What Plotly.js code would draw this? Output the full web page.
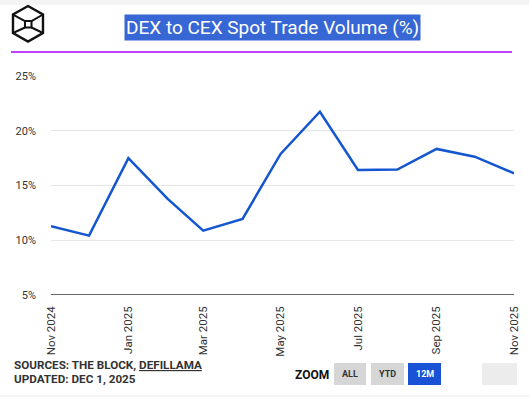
<!DOCTYPE html>
<html>
<head>
<meta charset="utf-8">
<script src="https://cdn.plot.ly/plotly-3.0.1.min.js"></script>
<style>
html,body{margin:0;padding:0;background:#fff;}
#chart{width:529px;height:399px;}
</style>
</head>
<body>
<div id="chart"></div>
<script>
// ---- data ----
const months = ["2024-11-01","2024-12-01","2025-01-01","2025-02-01","2025-03-01","2025-04-01","2025-05-01","2025-06-01","2025-07-01","2025-08-01","2025-09-01","2025-10-01","2025-11-01"];
const dexToCexPct = [11.28, 10.42, 17.49, 13.77, 10.88, 11.95, 17.88, 21.74, 16.42, 16.45, 18.34, 17.63, 16.12];
const titleText = "DEX to CEX Spot Trade Volume (%)";
const sourcesText = "SOURCES: THE BLOCK, <span style=\"text-decoration:underline\">DEFILLAMA</span>";
const updatedText = "UPDATED: DEC 1, 2025";
const zoomButtons = ["ALL", "YTD", "12M"];

// ---- layout helpers (pixel -> paper) ----
const L = 51, R = 15, T = 76, B = 104, W = 529, H = 399;
const PW = W - L - R, PH = H - T - B;
const px = x => (x - L) / PW;
const py = y => (H - B - y) / PH;
const P = (x, y) => px(x).toFixed(4) + "," + py(y).toFixed(4);

const shapes = [];
const annotations = [];

// header purple rule
shapes.push({type:"line", xref:"paper", yref:"paper", x0:px(11), x1:px(512), y0:py(52), y1:py(52), line:{color:"#aa00ff", width:1.5}});
// top grey strip
shapes.push({type:"rect", xref:"paper", yref:"paper", x0:px(0), x1:px(529), y0:py(0), y1:py(5), line:{width:0}, fillcolor:"#f4f4f4", layer:"below"});

// logo (cube)
const hex = [[28,6],[43,14.5],[43,33],[28,41.5],[13,33],[13,14.5]];
shapes.push({type:"path", xref:"paper", yref:"paper", line:{color:"#111", width:2.4},
  path: "M" + hex.map(p => P(p[0], p[1])).join(" L") + " Z"});
shapes.push({type:"path", xref:"paper", yref:"paper", line:{color:"#111", width:2},
  path: "M" + P(25,21) + " L" + P(31.5,21) + " L" + P(31.5,27.5) + " L" + P(25,27.5) + " Z"});
[[13,14.5,25,21],[43,14.5,31.5,21],[13,33,25,27.5],[43,33,31.5,27.5]].forEach(s => {
  shapes.push({type:"path", xref:"paper", yref:"paper", line:{color:"#111", width:2},
    path:"M" + P(s[0],s[1]) + " L" + P(s[2],s[3])});
});

// title
annotations.push({xref:"paper", yref:"paper", x:px(272), y:py(27.5), xanchor:"center", yanchor:"middle",
  text:titleText, showarrow:false, font:{family:"Roboto, sans-serif", size:19, color:"#ffffff"},
  bgcolor:"#3767d4", borderpad:1});

// sources
annotations.push({xref:"paper", yref:"paper", x:px(12), y:py(365), xanchor:"left", yanchor:"middle",
  text:"<b>" + sourcesText + "</b>", showarrow:false, font:{family:"Roboto, sans-serif", size:11.7, color:"#333333"}});
annotations.push({xref:"paper", yref:"paper", x:px(12), y:py(378.5), xanchor:"left", yanchor:"middle",
  text:"<b>" + updatedText + "</b>", showarrow:false, font:{family:"Roboto, sans-serif", size:11.7, color:"#333333"}});

// zoom label + buttons
annotations.push({xref:"paper", yref:"paper", x:px(293), y:py(375), xanchor:"left", yanchor:"middle",
  text:"<b>ZOOM</b>", showarrow:false, font:{family:"Roboto, sans-serif", size:12, color:"#111"}});
const btnX = [[334,366],[371,404],[408,441]];
zoomButtons.forEach((b, i) => {
  const active = b === "12M";
  shapes.push({type:"rect", xref:"paper", yref:"paper", x0:px(btnX[i][0]), x1:px(btnX[i][1]), y0:py(363), y1:py(385),
    line:{width:0}, fillcolor: active ? "#1a52d6" : "#d6d6d6"});
  annotations.push({xref:"paper", yref:"paper", x:px((btnX[i][0]+btnX[i][1])/2), y:py(374), xanchor:"center", yanchor:"middle",
    text:"<b>" + b + "</b>", showarrow:false, font:{family:"Roboto, sans-serif", size:9, color: active ? "#ffffff" : "#333333"}});
});
// faint extra button (behind watermark)
shapes.push({type:"rect", xref:"paper", yref:"paper", x0:px(482), x1:px(517), y0:py(363), y1:py(385), line:{width:0}, fillcolor:"#ececec"});

// bottom separator line
shapes.push({type:"line", xref:"paper", yref:"paper", x0:px(0), x1:px(529), y0:py(396), y1:py(396), line:{color:"#e8e8e8", width:1}});

const trace = {
  x: months, y: dexToCexPct, type:"scatter", mode:"lines",
  line:{color:"#1456d0", width:2.5}, hoverinfo:"skip"
};

const layout = {
  width:W, height:H,
  margin:{l:L, r:R, t:T, b:B, pad:0},
  paper_bgcolor:"#ffffff", plot_bgcolor:"#ffffff",
  showlegend:false,
  xaxis:{type:"date", range:[months[0], months[months.length-1]],
    tickformat:"%b %Y", dtick:"M2", tick0:months[0], tickangle:-90,
    showgrid:false, zeroline:false, showline:false, ticks:"", ticklabelstandoff:8,
    tickfont:{family:"Roboto, sans-serif", size:11.5, color:"#333333"}, fixedrange:true},
  yaxis:{range:[5,25], dtick:5, ticksuffix:"%", showgrid:true, gridcolor:"#e6e6e6", gridwidth:1,
    zeroline:false, showline:false, ticks:"", ticklabelstandoff:14,
    tickfont:{family:"Roboto, sans-serif", size:11, color:"#333333"}, fixedrange:true},
  shapes: shapes.concat([{type:"line", xref:"paper", yref:"y", x0:0, x1:1, y0:5, y1:5, line:{color:"#333333", width:1.5}}]),
  annotations: annotations
};

Plotly.newPlot("chart", [trace], layout, {displayModeBar:false, staticPlot:true});
</script>
</body>
</html>
